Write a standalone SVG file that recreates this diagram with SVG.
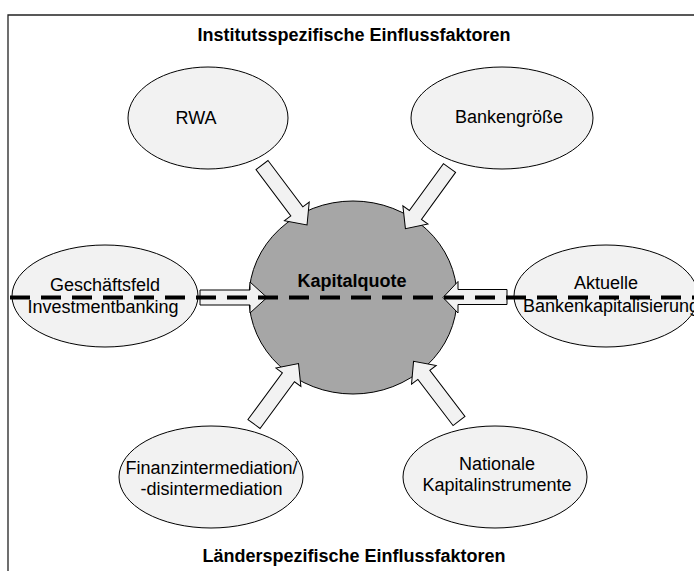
<svg xmlns="http://www.w3.org/2000/svg" width="694" height="571" viewBox="0 0 694 571">
<style>
.frame{fill:none;stroke:#222;stroke-width:1.3}
.node{fill:#f2f2f2;stroke:#000;stroke-width:1}
.center{fill:#a6a6a6;stroke:#000;stroke-width:1}
.arrow{fill:#f2f2f2;stroke:#000;stroke-width:1;stroke-linejoin:miter}
.t{font-family:"Liberation Sans",Arial,sans-serif;font-size:18px;fill:#000;text-anchor:middle}
.b{font-weight:bold}
.dash{stroke:#000;stroke-width:4;stroke-dasharray:20 11;fill:none}
</style>
<defs>
<path id="arrD" d="M0,-7.5 L58,-7.5 L58,-15.5 L75,0 L58,15.5 L58,7.5 L0,7.5 Z"/>
</defs>
<path class="frame" d="M8,571 L8,15 L694,15"/>
<text class="t b" x="354" y="41">Institutsspezifische Einflussfaktoren</text>
<text class="t b" x="354" y="562">Länderspezifische Einflussfaktoren</text>
<g id="kapitalquote">
<ellipse class="center" cx="353" cy="297.5" rx="104" ry="96.5"/>
<text class="t b" x="352" y="287">Kapitalquote</text>
</g>
<g id="rwa">
<ellipse class="node" cx="208" cy="118" rx="80" ry="51"/>
<text class="t" x="196" y="124">RWA</text>
</g>
<g id="bankengroesse">
<ellipse class="node" cx="502" cy="118" rx="91" ry="51"/>
<text class="t" x="509" y="123">Bankengröße</text>
</g>
<g id="geschaeftsfeld">
<ellipse class="node" cx="105" cy="296" rx="93" ry="51"/>
<text class="t" x="105" y="291">Geschäftsfeld</text>
<text class="t" x="103" y="313">Investmentbanking</text>
</g>
<g id="aktuelle">
<ellipse class="node" cx="606" cy="296" rx="92" ry="51"/>
<text class="t" x="606" y="289">Aktuelle</text>
<text class="t" x="611" y="312">Bankenkapitalisierung</text>
</g>
<g id="finanzintermediation">
<ellipse class="node" cx="211" cy="477" rx="92" ry="51"/>
<text class="t" x="211.5" y="474">Finanzintermediation/</text>
<text class="t" x="211.5" y="495">-disintermediation</text>
</g>
<g id="nationale">
<ellipse class="node" cx="495" cy="477" rx="92" ry="51"/>
<text class="t" x="497" y="470">Nationale</text>
<text class="t" x="497" y="491">Kapitalinstrumente</text>
</g>
<g id="connectors">
<use href="#arrD" class="arrow" transform="translate(262,165) rotate(53.1)"/>
<use href="#arrD" class="arrow" transform="translate(449.5,168) rotate(126)"/>
<use href="#arrD" class="arrow" transform="translate(254,424) rotate(-53.6)"/>
<use href="#arrD" class="arrow" transform="translate(459,421) rotate(-127.3)"/>
<path class="arrow" d="M200,290 L250,290 L250,282 L267,297.5 L250,313 L250,305 L200,305 Z"/>
<path class="arrow" d="M507,289.5 L458,289.5 L458,281.5 L443,297.5 L458,313 L458,304.5 L507,304.5 Z"/>
</g>
<line class="dash" x1="10" y1="297.5" x2="694" y2="297.5"/>
</svg>
